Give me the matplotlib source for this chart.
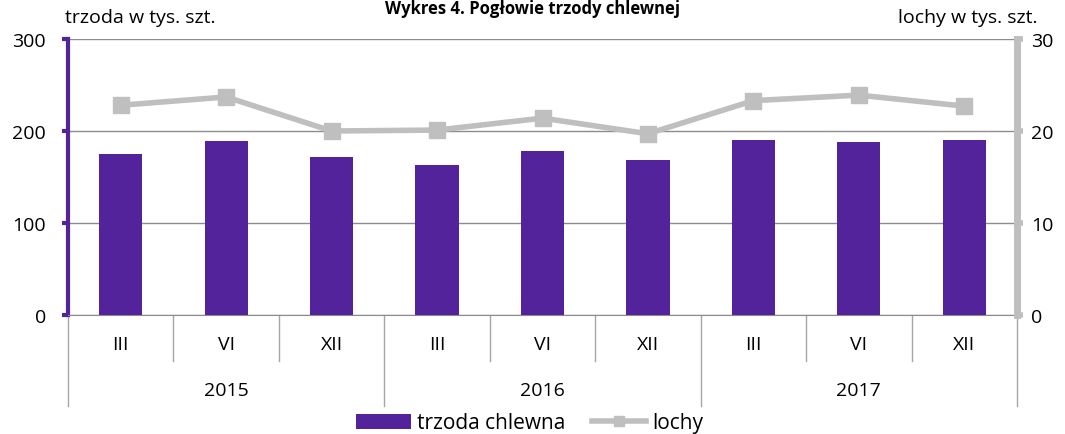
import matplotlib.pyplot as plt
import numpy as np

plt.rcParams['font.family'] = ['Open Sans', 'DejaVu Sans']

months = ['III', 'VI', 'XII', 'III', 'VI', 'XII', 'III', 'VI', 'XII']
years = ['2015', '2016', '2017']
trzoda = [175, 189, 172, 163, 178, 168, 190, 188, 190]
lochy = [22.8, 23.7, 20.0, 20.1, 21.4, 19.7, 23.3, 23.9, 22.7]

purple = '#52239a'
grey = '#bfbfbf'

fig = plt.figure(figsize=(10.65, 4.35), dpi=100)
ax1 = fig.add_axes([68 / 1065, 1 - 316 / 435, (1017 - 68) / 1065, 276 / 435])
x = np.arange(len(months))

ax1.bar(x, trzoda, width=0.41, color=purple, label='trzoda chlewna', zorder=3)
ax1.set_xlim(-0.5, len(months) - 0.5)
ax1.set_ylim(0, 300)
ax1.set_yticks([0, 100, 200, 300])
ax1.yaxis.grid(True, color='#8c8c8c', linewidth=1)
ax1.set_axisbelow(True)
ax1.set_xticks([])
for s in ['top', 'right']:
    ax1.spines[s].set_visible(False)
ax1.spines['bottom'].set_color('#8c8c8c')
ax1.spines['left'].set_color(purple)
ax1.spines['left'].set_linewidth(3)
ax1.tick_params(axis='y', colors=purple, length=4, width=3, labelsize=14,
                labelcolor='black', pad=12)

# ax 2
ax2 = ax1.twinx()
ax2.plot(x, lochy, color=grey, linewidth=4, marker='s', markersize=11,
         label='lochy', zorder=4)
ax2.set_ylim(0, 30)
ax2.set_yticks([0, 10, 20, 30])
for s in ['top', 'left', 'bottom']:
    ax2.spines[s].set_visible(False)
ax2.spines['right'].set_color(grey)
ax2.spines['right'].set_linewidth(5)
ax2.tick_params(axis='y', colors=grey, length=4, width=4, labelsize=14,
                labelcolor='black', pad=6)

# category axis, two levels
trans = ax1.get_xaxis_transform()
for i in range(len(months) + 1):
    low = -0.33 if i % 3 == 0 else -0.165
    ax1.plot([i - 0.5, i - 0.5], [0, low], transform=trans, color='#a6a6a6',
             linewidth=1, clip_on=False)
for i, m in enumerate(months):
    ax1.text(i, -0.105, m, transform=trans, ha='center', va='center', fontsize=14)
for j, y in enumerate(years):
    ax1.text(3 * j + 1, -0.27, y, transform=trans, ha='center', va='center', fontsize=14)

fig.text(65 / 1065, 1 - 18 / 435, 'trzoda w tys. szt.', ha='left', va='center', fontsize=14)
fig.text(1037 / 1065, 1 - 18 / 435, 'lochy w tys. szt.', ha='right', va='center', fontsize=14)
fig.text(0.5, 1.0, 'Wykres 4. Pogłowie trzody chlewnej', ha='center',
         va='top', fontsize=12, fontweight='bold')

# legend
h1, l1 = ax1.get_legend_handles_labels()
h2, l2 = ax2.get_legend_handles_labels()
fig.legend(h1 + h2, l1 + l2, loc='center', bbox_to_anchor=(530 / 1065, 1 - 424 / 435),
           ncol=2, frameon=False, fontsize=15, handlelength=2.6, handletextpad=0.3,
           columnspacing=1.3, borderpad=0, markerscale=0.7)

fig.savefig('out.png', dpi=100)
